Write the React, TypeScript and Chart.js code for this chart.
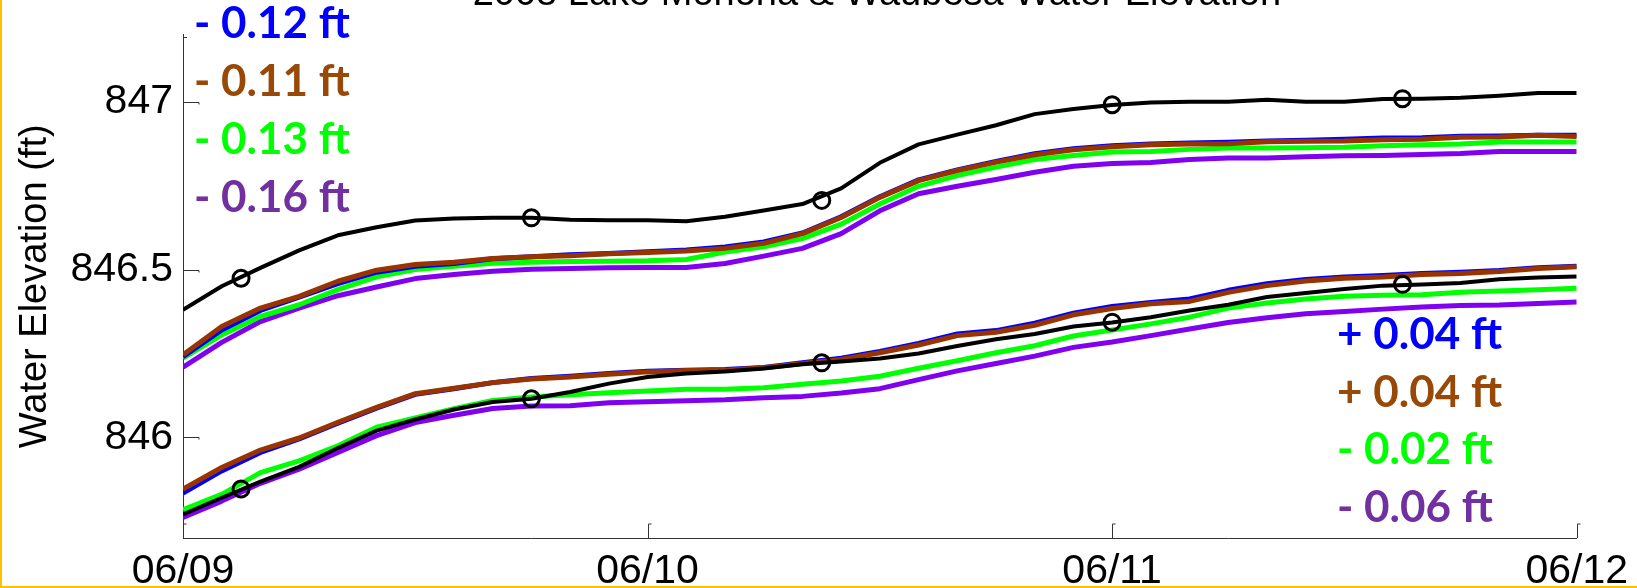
import React, { useEffect, useRef } from 'react';
import { Chart, registerables } from 'chart.js';

Chart.register(...registerables);

const AXIS_FONT = "'Liberation Sans', Arial, Helvetica, sans-serif";
const NOTE_FONT = "Lato, 'Open Sans', sans-serif";

const chartTitle = '2008 Lake Monona & Waubesa Water Elevation';
const yAxisTitle = 'Water Elevation (ft)';

// hours since 06/09 00:00
const hours = [0, 2, 4, 6, 8, 10, 12, 14, 16, 18, 20, 22, 24, 26, 28, 30, 32, 34, 36, 38, 40, 42, 44, 46, 48, 50, 52, 54, 56, 58, 60, 62, 64, 66, 68, 70, 72];
const xTickValues = [0, 24, 48, 72];
const xTickLabels = ['06/09', '06/10', '06/11', '06/12'];
const yTickValues = [846, 846.5, 847];
const yTickLabels = ['846', '846.5', '847'];

// upper group (Lake Monona)
const upperBlack = [846.38, 846.45, 846.505, 846.557, 846.602, 846.626, 846.646, 846.652, 846.654, 846.654, 846.648, 846.647, 846.647, 846.644, 846.657, 846.676, 846.695, 846.742, 846.818, 846.873, 846.902, 846.93, 846.963, 846.978, 846.99, 846.998, 847.0, 847.0, 847.006, 847.0, 847.0, 847.008, 847.009, 847.012, 847.018, 847.026, 847.026];
const upperBlue = [846.24, 846.32, 846.378, 846.418, 846.458, 846.492, 846.51, 846.518, 846.532, 846.538, 846.544, 846.548, 846.553, 846.558, 846.567, 846.582, 846.609, 846.657, 846.717, 846.767, 846.797, 846.822, 846.845, 846.86, 846.869, 846.874, 846.877, 846.879, 846.883, 846.885, 846.888, 846.892, 846.893, 846.897, 846.898, 846.9, 846.9];
const upperBrown = [846.246, 846.33, 846.385, 846.42, 846.465, 846.498, 846.515, 846.522, 846.533, 846.538, 846.541, 846.547, 846.551, 846.555, 846.563, 846.578, 846.607, 846.655, 846.715, 846.765, 846.795, 846.82, 846.842, 846.857, 846.866, 846.872, 846.874, 846.875, 846.881, 846.882, 846.883, 846.887, 846.888, 846.894, 846.895, 846.9, 846.896];
const upperGreen = [846.236, 846.305, 846.36, 846.395, 846.44, 846.478, 846.5, 846.51, 846.519, 846.522, 846.524, 846.525, 846.526, 846.53, 846.552, 846.568, 846.592, 846.635, 846.695, 846.748, 846.78, 846.805, 846.828, 846.84, 846.85, 846.852, 846.858, 846.862, 846.862, 846.863, 846.864, 846.869, 846.872, 846.874, 846.88, 846.88, 846.88];
const upperPurple = [846.209, 846.283, 846.345, 846.385, 846.422, 846.448, 846.473, 846.485, 846.495, 846.501, 846.503, 846.505, 846.506, 846.506, 846.518, 846.54, 846.563, 846.607, 846.675, 846.726, 846.748, 846.768, 846.79, 846.808, 846.816, 846.819, 846.828, 846.832, 846.832, 846.836, 846.839, 846.84, 846.843, 846.846, 846.852, 846.852, 846.852];

// lower group (Lake Waubesa)
const lowerBlack = [845.77, 845.82, 845.868, 845.912, 845.968, 846.02, 846.053, 846.083, 846.105, 846.115, 846.135, 846.16, 846.18, 846.19, 846.196, 846.205, 846.218, 846.226, 846.235, 846.25, 846.272, 846.292, 846.308, 846.33, 846.342, 846.358, 846.378, 846.395, 846.418, 846.43, 846.442, 846.452, 846.455, 846.46, 846.471, 846.476, 846.479];
const lowerBlue = [845.834, 845.9, 845.955, 845.995, 846.042, 846.087, 846.128, 846.145, 846.163, 846.175, 846.182, 846.19, 846.197, 846.2, 846.202, 846.208, 846.222, 846.236, 846.256, 846.28, 846.308, 846.318, 846.34, 846.37, 846.39, 846.402, 846.412, 846.438, 846.458, 846.47, 846.478, 846.482, 846.488, 846.492, 846.497, 846.505, 846.51];
const lowerBrown = [845.846, 845.91, 845.962, 845.998, 846.045, 846.089, 846.13, 846.146, 846.163, 846.174, 846.18, 846.188, 846.195, 846.199, 846.2, 846.207, 846.22, 846.232, 846.252, 846.275, 846.303, 846.313, 846.334, 846.365, 846.384, 846.398, 846.405, 846.432, 846.452, 846.466, 846.474, 846.478, 846.485, 846.488, 846.494, 846.503, 846.508];
const lowerGreen = [845.784, 845.83, 845.895, 845.93, 845.975, 846.03, 846.058, 846.085, 846.11, 846.12, 846.127, 846.133, 846.138, 846.143, 846.143, 846.148, 846.158, 846.168, 846.182, 846.206, 846.228, 846.252, 846.273, 846.302, 846.32, 846.338, 846.358, 846.385, 846.4, 846.412, 846.42, 846.423, 846.425, 846.432, 846.436, 846.44, 846.444];
const lowerPurple = [845.761, 845.81, 845.863, 845.905, 845.955, 846.005, 846.044, 846.066, 846.086, 846.093, 846.094, 846.103, 846.106, 846.109, 846.112, 846.118, 846.122, 846.132, 846.145, 846.172, 846.198, 846.22, 846.242, 846.268, 846.284, 846.303, 846.323, 846.342, 846.356, 846.368, 846.375, 846.382, 846.388, 846.393, 846.394, 846.399, 846.403];

// circle markers on the black (observed) lines
const markerHours = [3, 18, 33, 48, 63];
const upperMarkers = [846.474, 846.654, 846.706, 846.991, 847.009];
const lowerMarkers = [845.846, 846.115, 846.222, 846.343, 846.456];

const upperChangeLabels = ['- 0.12 ft', '- 0.11 ft', '- 0.13 ft', '- 0.16 ft'];
const lowerChangeLabels = ['+ 0.04 ft', '+ 0.04 ft', '- 0.02 ft', '- 0.06 ft'];
const changeLabelColors = ['#0000FF', '#984807', '#00FF00', '#7030A0'];

const COLORS = { black: '#000000', blue: '#0000FF', brown: '#993300', green: '#00FF00', purple: '#8000F0' };

const toPoints = (values: number[]) => hours.map((h, i) => ({ x: h, y: values[i] }));

const lineSet = (label: string, values: number[], color: string, width: number, order: number) => ({
  label,
  data: toPoints(values),
  borderColor: color,
  backgroundColor: color,
  borderWidth: width,
  pointRadius: 0,
  tension: 0,
  fill: false,
  order,
  borderJoinStyle: 'round' as const,
});

const markerSet = (label: string, values: number[]) => ({
  label,
  data: markerHours.map((h, i) => ({ x: h, y: values[i] })),
  showLine: false,
  pointRadius: 8,
  pointHoverRadius: 8,
  pointBorderWidth: 3,
  pointBorderColor: '#000000',
  pointBackgroundColor: 'rgba(0,0,0,0)',
  order: 0,
});

const overlayPlugin = {
  id: 'overlay',
  afterDraw(chart: any) {
    const { ctx, chartArea, scales } = chart;
    const x = scales.x;
    const y = scales.y;
    ctx.save();
    // inward tick marks
    ctx.strokeStyle = '#333333';
    ctx.lineWidth = 1;
    xTickValues.forEach((v) => {
      const px = Math.round(x.getPixelForValue(v)) + 0.5;
      ctx.beginPath();
      ctx.moveTo(px, chartArea.bottom);
      ctx.lineTo(px, chartArea.bottom - 14);
      ctx.lineTo(px + 3, chartArea.bottom - 14);
      ctx.stroke();
    });
    yTickValues.forEach((v) => {
      const py = Math.round(y.getPixelForValue(v)) + 0.5;
      ctx.beginPath();
      ctx.moveTo(chartArea.left, py);
      ctx.lineTo(chartArea.left + 16, py);
      ctx.lineTo(chartArea.left + 16, py + 2);
      ctx.stroke();
    });
    // small cap at the top end of the y axis
    ctx.beginPath();
    ctx.moveTo(chartArea.left, Math.round(chartArea.top) + 2.5);
    ctx.lineTo(chartArea.left + 4, Math.round(chartArea.top) + 2.5);
    ctx.stroke();
    // title (clipped at top edge)
    ctx.fillStyle = '#000000';
    ctx.font = `38px ${AXIS_FONT}`;
    ctx.textAlign = 'center';
    ctx.textBaseline = 'alphabetic';
    ctx.fillText(chartTitle, (chartArea.left + chartArea.right) / 2 - 3, 5);
    // change annotations
    ctx.font = `bold 44px ${NOTE_FONT}`;
    ctx.textAlign = 'left';
    upperChangeLabels.forEach((t, i) => {
      ctx.fillStyle = changeLabelColors[i];
      ctx.fillText(t, 194, 38 + i * 58);
    });
    lowerChangeLabels.forEach((t, i) => {
      ctx.fillStyle = changeLabelColors[i];
      ctx.fillText(t, 1337, 349 + i * 57.5);
    });
    // slide border
    ctx.fillStyle = '#FFC000';
    ctx.fillRect(0, 0, 2, chart.height);
    ctx.fillRect(0, chart.height - 2, chart.width, 2);
    ctx.restore();
  },
};

export default function App() {
  const canvasRef = useRef<HTMLCanvasElement | null>(null);

  useEffect(() => {
    if (!canvasRef.current) return;
    const chart = new Chart(canvasRef.current, {
      type: 'line',
      data: {
        datasets: [
          markerSet('Monona observed markers', upperMarkers),
          markerSet('Waubesa observed markers', lowerMarkers),
          lineSet('Monona observed', upperBlack, COLORS.black, 4, 1),
          lineSet('Waubesa observed', lowerBlack, COLORS.black, 4, 1),
          lineSet('Monona brown', upperBrown, COLORS.brown, 5, 2),
          lineSet('Waubesa brown', lowerBrown, COLORS.brown, 5, 2),
          lineSet('Monona blue', upperBlue, COLORS.blue, 5, 3),
          lineSet('Waubesa blue', lowerBlue, COLORS.blue, 5, 3),
          lineSet('Monona green', upperGreen, COLORS.green, 5, 4),
          lineSet('Waubesa green', lowerGreen, COLORS.green, 5, 4),
          lineSet('Monona purple', upperPurple, COLORS.purple, 5, 5),
          lineSet('Waubesa purple', lowerPurple, COLORS.purple, 5, 5),
        ] as any,
      },
      options: {
        responsive: false,
        animation: false,
        events: [],
        layout: { padding: { left: 0, top: 29, right: 57, bottom: 0 } },
        plugins: {
          legend: { display: false },
          tooltip: { enabled: false },
          title: { display: false },
        },
        scales: {
          x: {
            type: 'linear',
            min: 0,
            max: 72,
            grid: { display: false, drawTicks: false },
            border: { display: true, color: '#333333', width: 1 },
            afterBuildTicks: (scale: any) => {
              scale.ticks = xTickValues.map((v) => ({ value: v }));
            },
            afterFit: (scale: any) => {
              scale.height = 50;
            },
            ticks: {
              autoSkip: false,
              maxRotation: 0,
              padding: 9,
              color: '#000000',
              font: { family: AXIS_FONT, size: 41 },
              callback: (value: any) => xTickLabels[xTickValues.indexOf(Number(value))] ?? '',
            },
          },
          y: {
            type: 'linear',
            min: 845.7,
            max: 847.2,
            grid: { display: false, drawTicks: false },
            border: { display: true, color: '#333333', width: 1 },
            afterBuildTicks: (scale: any) => {
              scale.ticks = yTickValues.map((v) => ({ value: v }));
            },
            afterFit: (scale: any) => {
              scale.width = 183;
            },
            ticks: {
              padding: 10,
              color: '#000000',
              font: { family: AXIS_FONT, size: 41 },
              callback: (value: any) => yTickLabels[yTickValues.indexOf(Number(value))] ?? '',
            },
            title: {
              display: true,
              text: yAxisTitle,
              color: '#000000',
              font: { family: AXIS_FONT, size: 38 },
              padding: { top: 13, bottom: 0 },
            },
          },
        },
      } as any,
      plugins: [overlayPlugin],
    });
    return () => chart.destroy();
  }, []);

  return (
    <div style={{ position: 'fixed', left: 0, top: 0, width: 1637, height: 588, background: '#ffffff' }}>
      <canvas ref={canvasRef} width={1637} height={588} style={{ display: 'block' }} />
    </div>
  );
}
